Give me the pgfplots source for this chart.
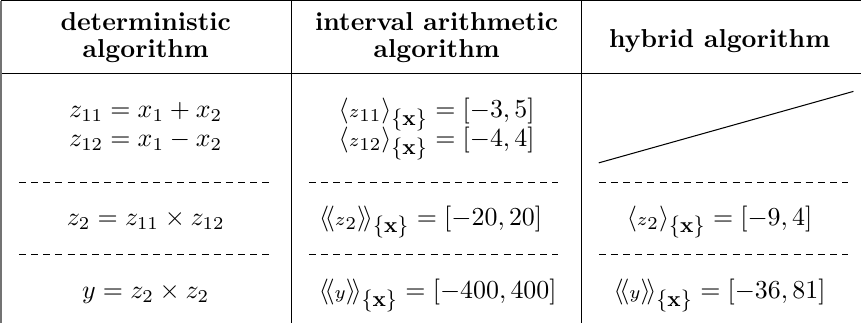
\documentclass[border=0pt]{standalone}
\usepackage{amsmath,amssymb}
\usepackage{graphicx}
\usepackage{pgfplots}
\pgfplotsset{compat=1.18}
\newcommand{\dl}{\langle\!\langle}
\newcommand{\dr}{\rangle\!\rangle}
\newcommand{\X}{\scalebox{0.85}{$\textstyle\{\mathbf{x}\}$}}
\newcommand{\s}[1]{{\scriptstyle #1}}
\begin{document}
\begin{tikzpicture}
\begin{axis}[scale only axis,width=335pt,height=127.1pt,
  xmin=0,xmax=862,ymin=0,ymax=327,y dir=reverse,hide axis,clip=false]
% table rules
\addplot[black,line width=0.4pt] coordinates {(7,7) (862,7)};
\addplot[black,line width=0.4pt] coordinates {(7,79) (862,79)};
\addplot[black!55,line width=0.6pt] coordinates {(7,7) (7,327)};
\addplot[black,line width=0.4pt] coordinates {(296,7) (296,327)};
\addplot[black,line width=0.4pt] coordinates {(584,7) (584,327)};
% dashed separators
\addplot[black,line width=0.35pt,dash pattern=on 2.7pt off 2pt] coordinates {(25,187) (273,187)};
\addplot[black,line width=0.35pt,dash pattern=on 2.7pt off 2pt] coordinates {(313,187) (561,187)};
\addplot[black,line width=0.35pt,dash pattern=on 2.7pt off 2pt] coordinates {(601,187) (849,187)};
\addplot[black,line width=0.35pt,dash pattern=on 2.7pt off 2pt] coordinates {(25,259) (273,259)};
\addplot[black,line width=0.35pt,dash pattern=on 2.7pt off 2pt] coordinates {(313,259) (561,259)};
\addplot[black,line width=0.35pt,dash pattern=on 2.7pt off 2pt] coordinates {(601,259) (849,259)};
% diagonal in empty cell
\addplot[black,line width=0.4pt] coordinates {(601,168) (854,97)};
% header
\node[anchor=base] at (axis cs:151,37) {\textbf{deterministic}};
\node[anchor=base] at (axis cs:151,63) {\textbf{algorithm}};
\node[anchor=base] at (axis cs:440,37) {\textbf{interval arithmetic}};
\node[anchor=base] at (axis cs:440,63) {\textbf{algorithm}};
\node[anchor=base] at (axis cs:721,53) {\textbf{hybrid algorithm}};
% body
\node[anchor=base] at (axis cs:151,123) {$z_{11}=x_1+x_2$};
\node[anchor=base] at (axis cs:151,152) {$z_{12}=x_1-x_2$};
\node[anchor=base] at (axis cs:151,230) {$z_2=z_{11}\times z_{12}$};
\node[anchor=base] at (axis cs:151,303) {$y=z_2\times z_2$};
\node[anchor=base] at (axis cs:440,123) {$\langle\s{z}_{11}\rangle_{\X}=[-3,5]$};
\node[anchor=base] at (axis cs:440,152) {$\langle\s{z}_{12}\rangle_{\X}=[-4,4]$};
\node[anchor=base] at (axis cs:434,230) {$\dl\s{z}_2\dr_{\X}=[-20,20]$};
\node[anchor=base] at (axis cs:441,303) {$\dl\s{y}\dr_{\X}=[-400,400]$};
\node[anchor=base] at (axis cs:721,230) {$\langle\s{z}_2\rangle_{\X}=[-9,4]$};
\node[anchor=base] at (axis cs:721,303) {$\dl\s{y}\dr_{\X}=[-36,81]$};
\end{axis}
\end{tikzpicture}
\end{document}
